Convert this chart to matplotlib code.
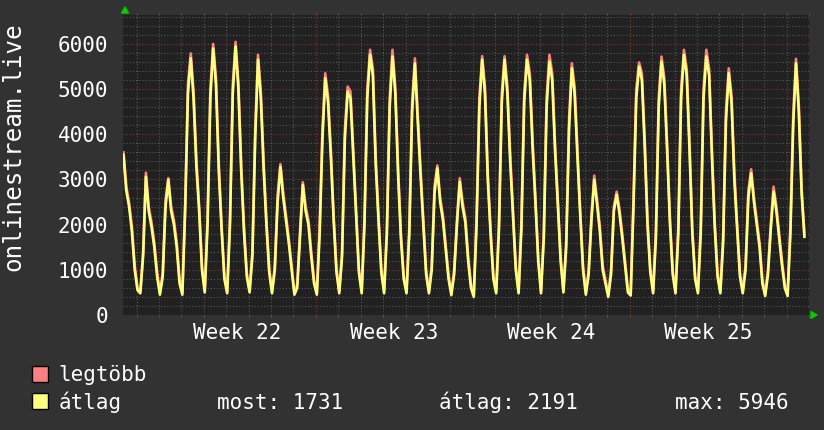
import numpy as np
import matplotlib.pyplot as plt
from matplotlib.patches import Polygon, Rectangle

W, H = 824, 430

# 8 samples a day (every 3 hours), each row starts at that day's peak
avg_rows = [
    [3540, 2750, 2400, 1850, 1000, 550, 480, 1300],
    [3060, 2300, 1950, 1500, 850, 450, 850, 2400],
    [2990, 2300, 2000, 1500, 700, 450, 2300, 4900],
    [5680, 4800, 3300, 2300, 1000, 500, 2000, 4800],
    [5900, 5100, 3200, 1900, 800, 480, 2000, 4900],
    [5946, 5000, 3200, 1850, 850, 500, 1300, 3900],
    [5650, 4800, 3250, 2000, 950, 480, 1000, 2500],
    [3280, 2600, 2100, 1590, 1000, 450, 600, 1750],
    [2880, 2300, 2000, 1300, 700, 450, 1800, 3900],
    [5240, 4700, 3500, 2100, 950, 480, 1300, 3900],
    [4945, 4800, 3500, 2200, 950, 480, 2000, 4800],
    [5760, 5300, 3350, 2100, 950, 480, 1800, 4600],
    [5720, 4900, 3100, 1700, 800, 480, 1800, 4500],
    [5570, 4300, 3100, 2000, 900, 480, 1000, 2700],
    [3250, 2500, 2100, 1450, 800, 440, 900, 2000],
    [2950, 2400, 2050, 1200, 600, 400, 2000, 4600],
    [5650, 4900, 3000, 1800, 800, 480, 1900, 4700],
    [5650, 4900, 3400, 2200, 1000, 480, 1900, 4700],
    [5650, 5200, 3700, 2500, 1200, 480, 1700, 4600],
    [5610, 5200, 3650, 2450, 1200, 500, 1500, 4100],
    [5460, 4900, 3500, 2200, 1000, 450, 900, 2100],
    [2990, 2450, 1850, 1000, 700, 400, 900, 2300],
    [2660, 2250, 1700, 1100, 500, 430, 2400, 4800],
    [5500, 5200, 3750, 2000, 950, 480, 1700, 4600],
    [5610, 5100, 3650, 2050, 900, 480, 1800, 4800],
    [5760, 5300, 3650, 1800, 800, 480, 1800, 4800],
    [5720, 5300, 3500, 1950, 850, 480, 1600, 4300],
    [5350, 4700, 3000, 1900, 850, 480, 1000, 2600],
    [3140, 2500, 2000, 1500, 700, 420, 900, 1900],
    [2730, 2300, 1700, 1100, 600, 420, 1800, 4200],
    [5570, 4500, 2700, 1731],
]
max_rows = [
    [3600, 2850, 2480, 1950, 1100, 600, 520, 1400],
    [3150, 2400, 2050, 1600, 950, 500, 950, 2550],
    [3030, 2400, 2100, 1600, 800, 500, 2450, 5100],
    [5790, 4950, 3450, 2400, 1100, 550, 2150, 5000],
    [6000, 5250, 3350, 2000, 870, 520, 2150, 5100],
    [6045, 5150, 3350, 1950, 930, 560, 1400, 4100],
    [5760, 4950, 3400, 2100, 1030, 520, 1100, 2650],
    [3340, 2700, 2200, 1680, 1080, 500, 680, 1850],
    [2940, 2400, 2100, 1400, 780, 500, 1950, 4100],
    [5350, 4850, 3650, 2200, 1030, 530, 1400, 4100],
    [5055, 4950, 3650, 2300, 1030, 530, 2150, 5000],
    [5870, 5450, 3500, 2200, 1030, 530, 1950, 4800],
    [5870, 5050, 3250, 1800, 870, 530, 1950, 4700],
    [5680, 4450, 3250, 2100, 980, 530, 1100, 2850],
    [3310, 2600, 2200, 1550, 880, 490, 1000, 2100],
    [3030, 2500, 2150, 1300, 680, 450, 2150, 4800],
    [5730, 5050, 3150, 1900, 870, 530, 2050, 4900],
    [5730, 5050, 3550, 2300, 1080, 530, 2050, 4900],
    [5760, 5350, 3850, 2600, 1280, 530, 1850, 4800],
    [5760, 5350, 3800, 2550, 1280, 550, 1650, 4300],
    [5570, 5050, 3650, 2300, 1080, 500, 1000, 2200],
    [3085, 2550, 1950, 1100, 780, 450, 1000, 2400],
    [2730, 2350, 1800, 1200, 580, 480, 2550, 5000],
    [5590, 5350, 3900, 2100, 1030, 530, 1850, 4800],
    [5720, 5250, 3800, 2150, 980, 530, 1950, 5000],
    [5870, 5450, 3800, 1900, 870, 530, 1950, 5000],
    [5870, 5450, 3650, 2050, 930, 530, 1750, 4500],
    [5460, 4850, 3150, 2000, 930, 530, 1100, 2750],
    [3225, 2600, 2100, 1600, 780, 470, 1000, 2000],
    [2840, 2400, 1800, 1200, 680, 470, 1950, 4400],
    [5670, 4650, 2800, 1790],
]

week_labels = ["Week 22", "Week 23", "Week 24", "Week 25"]
y_ticks = [0, 1000, 2000, 3000, 4000, 5000, 6000]
series_names = ["legtöbb", "átlag"]
stats = ["most: 1731", "átlag: 2191", "max: 5946"]

first_week = 1.58   # days from the left edge to the first week boundary
x_span = 30.52
y_top = 6640

avg = np.concatenate([np.array(r, float) for r in avg_rows])
mx = np.concatenate([np.array(r, float) for r in max_rows])
t = np.arange(len(avg)) / 8.0

BG = '#323232'
RED = '#ff8080'
YEL = '#ffff80'
GRID = '#5c5c5c'
MGRID = '#8c3c3c'
MONO = 'DejaVu Sans Mono'

fig = plt.figure(figsize=(W / 100, H / 100), dpi=100)
fig.patch.set_facecolor(BG)
ax = fig.add_axes([123.5 / W, 1 - 315 / H, 685.5 / W, 300 / H])
ax.set_facecolor('#212121')
for s in ax.spines.values():
    s.set_visible(False)

ax.plot(t, mx, color=RED, lw=1.9, zorder=3)
ax.plot(t, avg, color=YEL, lw=1.9, zorder=4)
ax.set_xlim(0, x_span)
ax.set_ylim(0, y_top)

# grid: minor every 200 / every day, major every 1000 / every week
ax.set_yticks(y_ticks)
ax.set_yticks(np.arange(0, y_top, 200), minor=True)
ax.set_xticks(first_week + 7 * np.arange(5))
ax.set_xticks((first_week % 1) + np.arange(31), minor=True)
dots = (0, (1, 2))
ax.grid(which='minor', color=GRID, ls=dots, lw=0.75, zorder=1)
ax.grid(which='major', color=MGRID, ls=dots, lw=0.75, zorder=2)
ax.set_axisbelow(True)

ax.tick_params(axis='x', which='both', direction='out', length=1.5, width=0.75,
               top=True, bottom=True, labelbottom=False)
ax.tick_params(axis='x', which='major', color=MGRID)
ax.tick_params(axis='x', which='minor', color=GRID)
ax.tick_params(axis='y', which='both', length=0, pad=11)
ax.set_yticklabels([str(v) for v in y_ticks], fontsize=15, color='white', family=MONO)

for i, lab in enumerate(week_labels):
    ax.text(first_week + 3.5 + 7 * i, -24 / 300, lab, transform=ax.get_xaxis_transform(),
            ha='center', va='baseline', fontsize=15, color='white', family=MONO)

fig.text(13 / W, 1 - 147 / H, 'onlinestream.live', rotation=90, ha='center', va='center',
         fontsize=17.5, color='white', family=MONO)

# green axis arrows
def px(x, y):
    return (x / W, 1 - y / H)

fig.patches.append(Polygon([px(125, 7), px(121.5, 13), px(128.5, 13)], closed=True,
                           transform=fig.transFigure, color='#00cc00', figure=fig))
fig.patches.append(Polygon([px(817, 315), px(811, 311.5), px(811, 318.5)], closed=True,
                           transform=fig.transFigure, color='#00cc00', figure=fig))

# legend
for (col, name, ytop, base) in [(RED, series_names[0], 365.7, 381), (YEL, series_names[1], 393, 409)]:
    x0, y0 = px(31.7, ytop + 16)
    fig.patches.append(Rectangle((x0, y0), 16 / W, 16 / H, transform=fig.transFigure,
                                 facecolor=col, edgecolor='black', lw=1, figure=fig))
    fig.text(58.3 / W, 1 - base / H, name, ha='left', va='baseline', fontsize=15,
             color='white', family=MONO)

for txt, x in zip(stats, [216.7, 439.3, 675.3]):
    fig.text(x / W, 1 - 409 / H, txt, ha='left', va='baseline', fontsize=15,
             color='white', family=MONO)

fig.savefig('out.png', dpi=100, facecolor=BG)
